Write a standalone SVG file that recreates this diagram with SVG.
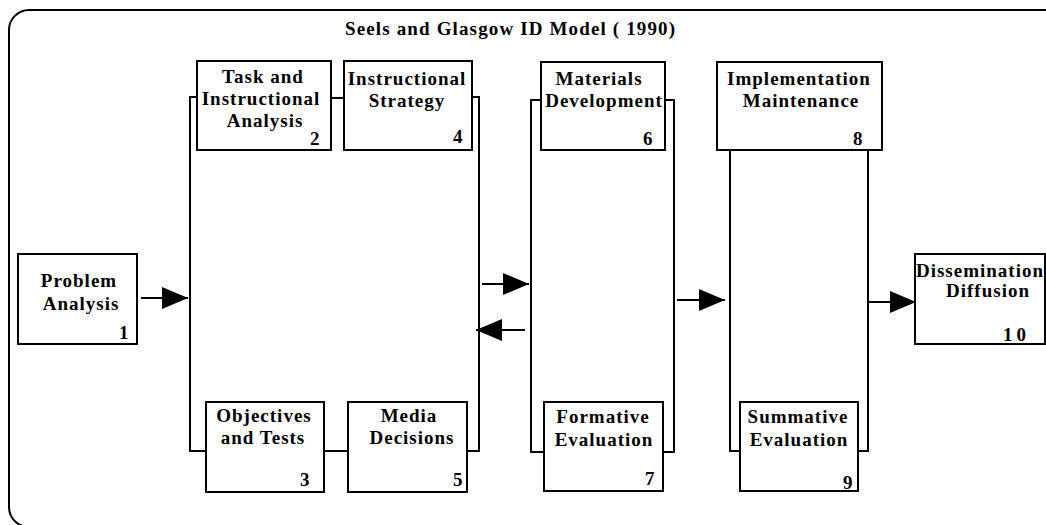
<svg xmlns="http://www.w3.org/2000/svg" width="1046" height="525" viewBox="0 0 1046 525">
<defs>
<style>
.box{fill:#fff;stroke:#000;stroke-width:2}
.t{font-family:"Liberation Serif","Times New Roman",serif;font-weight:bold;font-size:19px;letter-spacing:1px;fill:#000;text-anchor:middle}
.n{font-family:"Liberation Serif","Times New Roman",serif;font-weight:bold;font-size:19px;fill:#000;text-anchor:start}
.ln{fill:none;stroke:#000;stroke-width:2}
.frame{fill:#fff;stroke:#000;stroke-width:2}
</style>
<marker id="ah" markerUnits="userSpaceOnUse" markerWidth="27" markerHeight="23" refX="26" refY="11" orient="auto">
<path d="M0,0 L26,11 L0,22 z" fill="#000"/>
</marker>
</defs>
<rect class="frame" x="9" y="10" width="1062" height="517" rx="20" ry="20"/>
<text x="510" y="35" font-family="Liberation Serif, Times New Roman, serif" font-weight="bold" font-size="19" text-anchor="middle" textLength="330">Seels and Glasgow ID Model ( 1990)</text>
<g id="connectors">
<path class="ln" d="M141,298 H188" marker-end="url(#ah)"/>
<path class="ln" d="M482,284 H529" marker-end="url(#ah)"/>
<path class="ln" d="M525,330 H476" marker-end="url(#ah)"/>
<path class="ln" d="M677,300 H725" marker-end="url(#ah)"/>
<path class="ln" d="M868,302 H916" marker-end="url(#ah)"/>
<path class="ln" d="M197,97 H190 V451 H206"/>
<path class="ln" d="M472,97 H479 V451 H467"/>
<path class="ln" d="M331,98 H344"/>
<path class="ln" d="M324,451 H348"/>
<path class="ln" d="M544,100 H531 V452 H544"/>
<path class="ln" d="M663,100 H674 V452 H663"/>
<path class="ln" d="M740,100 H730 V451 H740"/>
<path class="ln" d="M860,100 H868 V451 H858"/>
</g>
<g id="n1">
<rect class="box" x="18" y="254" width="119" height="90"/>
<text class="t" x="79" y="287">Problem</text>
<text class="t" x="81" y="310">Analysis</text>
<text class="n" x="119" y="339">1</text>
</g>
<g id="n2">
<rect class="box" x="197" y="61" width="134" height="89"/>
<text class="t" x="263" y="83">Task and</text>
<text class="t" x="261" y="105">Instructional</text>
<text class="t" x="265" y="127">Analysis</text>
<text class="n" x="310" y="145">2</text>
</g>
<g id="n4">
<rect class="box" x="344" y="61" width="128" height="89"/>
<text class="t" x="407" y="85">Instructional</text>
<text class="t" x="407" y="107">Strategy</text>
<text class="n" x="453" y="143">4</text>
</g>
<g id="n3">
<rect class="box" x="206" y="402" width="118" height="90"/>
<text class="t" x="264" y="422">Objectives</text>
<text class="t" x="263" y="444">and Tests</text>
<text class="n" x="300" y="486">3</text>
</g>
<g id="n5">
<rect class="box" x="348" y="402" width="119" height="90"/>
<text class="t" x="409" y="422">Media</text>
<text class="t" x="412" y="444">Decisions</text>
<text class="n" x="453" y="486">5</text>
</g>
<g id="n6">
<rect class="box" x="541" y="62" width="124" height="88"/>
<text class="t" x="599" y="85">Materials</text>
<text class="t" x="604" y="107">Development</text>
<text class="n" x="643" y="145">6</text>
</g>
<g id="n8">
<rect class="box" x="717" y="62" width="165" height="88"/>
<text class="t" x="799" y="85">Implementation</text>
<text class="t" x="801" y="107">Maintenance</text>
<text class="n" x="853" y="145">8</text>
</g>
<g id="n7">
<rect class="box" x="544" y="402" width="119" height="89"/>
<text class="t" x="603" y="423">Formative</text>
<text class="t" x="604" y="446">Evaluation</text>
<text class="n" x="645" y="485">7</text>
</g>
<g id="n9">
<rect class="box" x="740" y="402" width="118" height="89"/>
<text class="t" x="798" y="423">Summative</text>
<text class="t" x="799" y="446">Evaluation</text>
<text class="n" x="843" y="489">9</text>
</g>
<g id="n10">
<rect class="box" x="915" y="254" width="130" height="90"/>
<text class="t" x="980" y="277">Dissemination</text>
<text class="t" x="988" y="297">Diffusion</text>
<text class="n" x="1003" y="341" letter-spacing="4">10</text>
</g>
</svg>
